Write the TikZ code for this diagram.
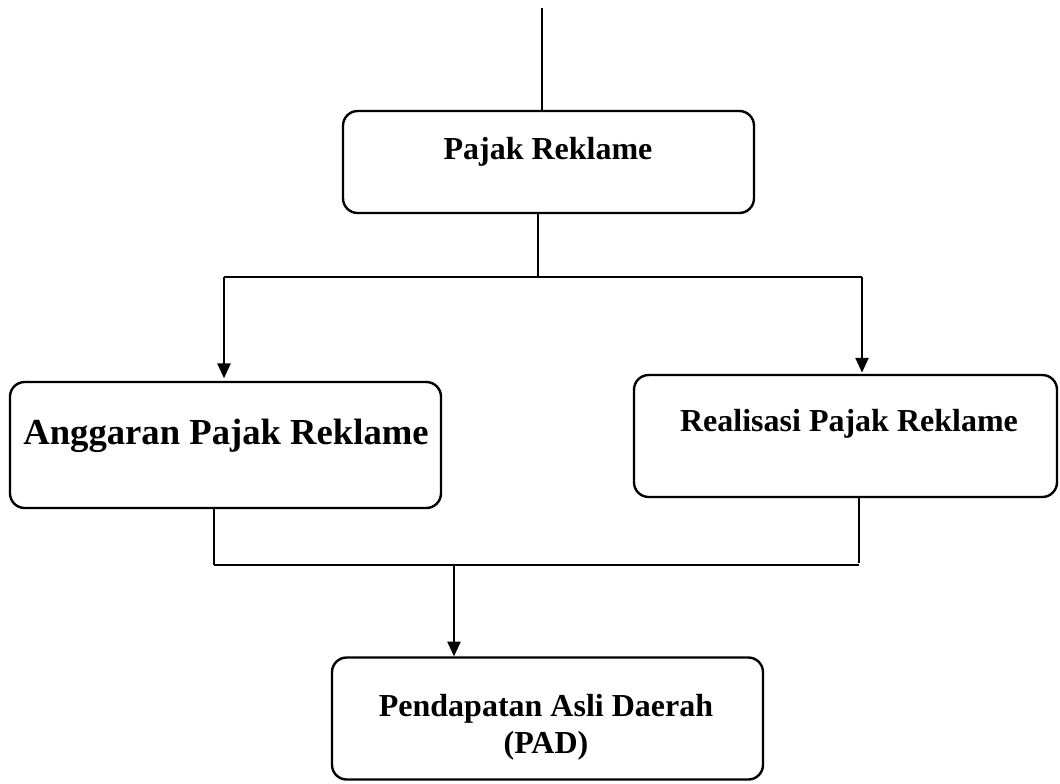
\documentclass[tikz,border=0pt]{standalone}
\usepackage{fontspec}
\setmainfont{Liberation Serif}
\usetikzlibrary{arrows.meta}
\begin{document}
\begin{tikzpicture}[x=0.75pt,y=-0.75pt,
  box/.style={draw, line width=1.8pt, rounded corners=11pt, inner sep=0pt},
  lbl/.style={anchor=base, inner sep=0pt, font=\fontsize{24}{28}\selectfont\bfseries},
  conn/.style={line width=1pt},
  arr/.style={conn, -{Triangle[length=11pt,width=10pt]}}]
\useasboundingbox (0,0) rectangle (1060,783);
\node[box, minimum width=308.25pt, minimum height=76.5pt] (pr) at (548.5,162) {};
\node[box, minimum width=323.25pt, minimum height=94.5pt] (ang) at (225.5,445) {};
\node[box, minimum width=317.25pt, minimum height=91.5pt] (real) at (845.5,436) {};
\node[box, minimum width=323.25pt, minimum height=91.5pt] (pad) at (547.5,718.5) {};
\node[lbl] (tpr) at (548,159) {Pajak Reklame};
\node[lbl, font=\fontsize{27.5}{32}\selectfont\bfseries] (tang) at (226,444) {Anggaran Pajak Reklame};
\node[lbl] (treal) at (849,431) {Realisasi Pajak Reklame};
\node[lbl] (tpad1) at (546,716) {Pendapatan Asli Daerah};
\node[lbl] (tpad2) at (546,753) {(PAD)};
\coordinate (top) at (542,8);
\coordinate (j1) at (538,277);
\coordinate (jl) at (224,277);
\coordinate (jr) at (862,277);
\coordinate (bl) at (214,565);
\coordinate (br) at (859,563);
\coordinate (bc) at (454,566);
\draw[conn] (top) -- (top |- pr.north);
\draw[conn] (j1 |- pr.south) -- (j1);
\draw[conn] (jl) -- (jr);
\draw[arr] (jl) -- ([yshift=2pt]jl |- ang.north);
\draw[arr] (jr) -- ([yshift=1pt]jr |- real.north);
\draw[conn] (bl |- ang.south) -- (bl);
\draw[conn] (br |- real.south) -- (br);
\draw[conn] (bl) -- (bl -| br);
\draw[arr] (bc) -- (bc |- pad.north);
\end{tikzpicture}
\end{document}
